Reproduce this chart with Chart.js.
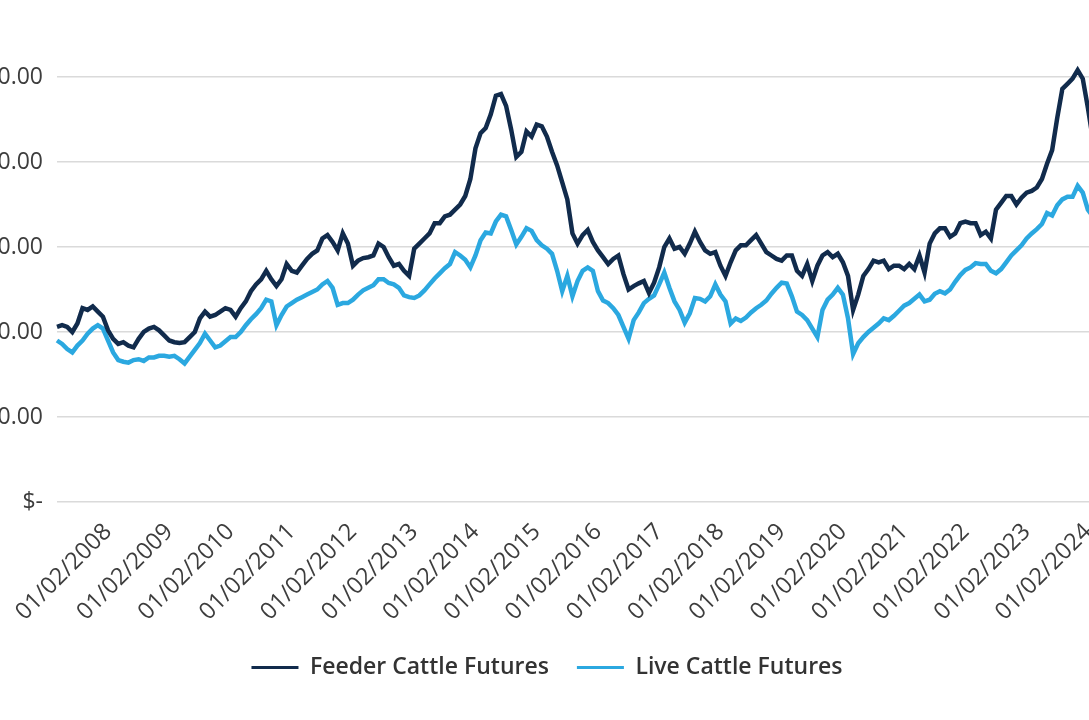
<!DOCTYPE html>
<html>
<head>
<meta charset="utf-8">
<script src="https://cdn.jsdelivr.net/npm/chart.js@4/dist/chart.umd.min.js"></script>
<style>
    html, body { margin: 0; padding: 0; background: #fff; overflow: hidden; }
    body { width: 1089px; height: 720px; position: relative; }
    #wrap { position: absolute; left: -50px; top: -38px; width: 1194px; height: 727px; }
</style>
</head>
<body>
<div id="wrap"><canvas id="cattleChart"></canvas></div>
<script>
// Monthly closes, Feb 2007 onwards
var feederCattle = [
    103, 104, 103, 100, 105, 114, 113, 115, 112, 109,
    101, 96, 93, 94, 92, 91, 96, 100, 102, 103,
    101, 98, 95, 94, 93.5, 94, 97, 100, 108, 112,
    109, 110, 112, 114, 113, 109, 114, 118, 124, 128,
    131, 136, 131, 127, 131, 140, 136, 135, 139, 143,
    146, 148, 155, 157, 153, 148, 158, 152, 139, 142,
    143.5, 144, 145, 152, 150, 144, 139, 140, 136, 133,
    149, 152, 155, 158, 164, 164, 168, 169, 172, 175,
    180, 190, 208, 217, 220, 228, 239, 240, 233, 219,
    203, 206, 218, 215, 222, 221, 215, 206, 198, 188,
    178, 158, 152, 157, 160, 153, 148, 144, 140, 143,
    145, 134, 125, 127, 128.6, 130, 123, 129, 138, 150,
    155, 149, 150, 146, 152, 159, 153, 148, 146, 147,
    139, 133, 141, 148, 151, 151, 154, 157, 152, 147,
    145, 143, 142, 145, 145, 136, 133, 140, 130, 139,
    145, 147, 144, 146, 141, 133, 113, 122, 133, 137,
    142, 141, 142, 137, 139, 139, 137, 140, 137, 145,
    135, 152, 158, 161, 161, 156, 158, 164, 165, 164,
    164, 157, 159, 155, 172, 176, 180, 180, 175, 179,
    182, 183, 185, 190, 199, 207, 226, 243, 246, 249,
    254, 249, 232, 213, 215
];
var liveCattle = [
    95, 93, 90, 88, 92, 95, 99, 102, 104, 102,
    95, 88, 83.5, 82.5, 82, 83.5, 84, 83, 85, 85,
    86, 86, 85.5, 86, 84, 81.5, 85.5, 89.5, 93.5, 99,
    95, 91, 92, 94.5, 97, 97, 100, 104, 107.5, 110.5,
    114, 119, 118, 104, 110, 115, 117, 119, 120.5, 122,
    123.5, 125, 128, 130, 126, 116, 117, 117, 119, 122,
    124.5, 126, 127.5, 131, 131, 128.8, 128, 126, 121.5, 120.5,
    120, 121.5, 124.5, 128, 131.5, 134.5, 137.5, 140, 147, 145,
    142.5, 138, 145, 154, 158.5, 158, 165, 169, 168, 160,
    151.5, 156, 161, 159.5, 154, 151, 149, 146, 136, 124,
    133, 121, 130, 136, 138, 136, 124, 118.5, 117, 114,
    110, 103, 96, 107, 111.5, 117, 119.5, 121.5, 128, 135,
    126, 118, 113, 105.5, 111, 120, 119.5, 118, 121, 128,
    122, 118, 105, 108, 106.5, 108.5, 111.5, 114, 116, 118.5,
    122.5, 126, 129, 128.5, 121, 112, 110, 107, 102, 97,
    113, 119, 122, 126, 122, 108, 87, 93.4, 97, 100,
    102.5, 105, 108, 107, 109.5, 112.5, 115.5, 117, 119.5, 122,
    118, 119, 122.5, 124, 122.7, 125, 129.5, 133.5, 136.5, 138,
    140.5, 140, 140, 136, 134.5, 137, 141, 145, 148, 151,
    155, 158, 160.5, 163.5, 170, 168.5, 174.5, 178, 179.5, 179.5,
    186, 182, 172, 168, 170
];
var yTicks = [0, 50, 100, 150, 200, 250, 300];

// one category per month, Feb 2007 to Nov 2024
var months = [];
for (var m = 0; m < 214; m++) {
    var t = 2007 * 12 + 1 + m;
    var mm = (t % 12) + 1;
    months.push(Math.floor(t / 12) + '-' + (mm < 10 ? '0' + mm : mm));
}

Chart.defaults.font.family = "'Open Sans', sans-serif";
Chart.defaults.color = '#3d3d3d';

var ctx = document.getElementById('cattleChart').getContext('2d');
var chart = new Chart(ctx, {
    type: 'line',
    data: {
        labels: months,
        datasets: [{
            label: 'Feeder Cattle Futures',
            data: feederCattle,
            borderColor: '#112b4c',
            backgroundColor: '#112b4c',
            borderWidth: 4.5,
            pointRadius: 0,
            tension: 0
        }, {
            label: 'Live Cattle Futures',
            data: liveCattle,
            borderColor: '#2ba8e0',
            backgroundColor: '#2ba8e0',
            borderWidth: 4.5,
            pointRadius: 0,
            tension: 0
        }]
    },
    options: {
        responsive: true,
        maintainAspectRatio: false,
        animation: false,
        layout: { padding: { top: 30, right: 0, bottom: 0, left: 0 } },
        plugins: {
            tooltip: { enabled: false },
            legend: {
                position: 'bottom',
                labels: {
                    boxWidth: 47,
                    boxHeight: 3,
                    padding: 28,
                    color: '#333',
                    font: { size: 23, weight: '600' },
                    generateLabels: function(chart) {
                        var items = Chart.defaults.plugins.legend.labels.generateLabels(chart);
                        items.forEach(function(it) { it.lineWidth = 0; });
                        return items;
                    }
                }
            }
        },
        scales: {
            x: {
                grid: { display: false },
                border: { display: false },
                ticks: {
                    autoSkip: false,
                    minRotation: 45,
                    maxRotation: 45,
                    padding: 8,
                    labelOffset: -5,
                    font: { size: 23.5 },
                    callback: function(value) {
                        var lab = this.getLabelForValue(value);
                        if (lab.slice(5) === '01') {
                            return '01/02/' + lab.slice(0, 4);
                        }
                        return '';
                    }
                },
                afterFit: function(scale) {
                    scale.height = 126;
                    scale.paddingLeft = 0;
                    scale.paddingRight = 0;
                }
            },
            y: {
                min: 0,
                max: 300,
                afterBuildTicks: function(scale) {
                    scale.ticks = yTicks.map(function(v) { return { value: v }; });
                },
                grid: { color: '#dadada', lineWidth: 1.5, drawTicks: false },
                border: { display: false },
                ticks: {
                    padding: 14,
                    font: { size: 23 },
                    callback: function(value) {
                        return value === 0 ? '$-' : '$' + value.toFixed(2);
                    }
                },
                afterFit: function(scale) {
                    scale.width = 107;
                    scale.paddingTop = 0;
                    scale.paddingBottom = 0;
                }
            }
        }
    }
});
</script>
</body>
</html>
